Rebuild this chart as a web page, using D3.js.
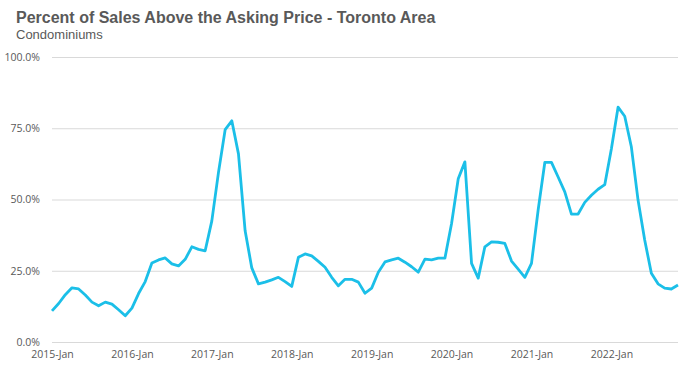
<!DOCTYPE html>
<html>
<head>
<meta charset="utf-8">
<script src="https://cdn.jsdelivr.net/npm/d3@7"></script>
<style>
  body { margin: 0; background: #fff; }
  svg { display: block; }
</style>
</head>
<body>
<svg width="690" height="372"></svg>
<script>
// monthly values, 2015-Jan .. 2022-Nov (percent)
const condoValues = [
    10.9, 13.5, 16.6, 19.0, 18.6, 16.5, 14.0, 12.7, 14.0, 13.3, 11.3, 9.2,   // 2015
    11.9, 17.0, 21.2, 27.7, 28.8, 29.5, 27.4, 26.7, 29.0, 33.4, 32.5, 32.0,  // 2016
    42.5, 59.5, 74.5, 77.6, 66.0, 39.0, 26.0, 20.4, 21.0, 21.8, 22.7, 21.2,  // 2017
    19.5, 29.7, 30.9, 30.2, 28.3, 26.2, 22.7, 19.7, 22.0, 22.0, 21.0, 17.1,  // 2018
    18.9, 24.5, 28.1, 28.8, 29.4, 28.0, 26.4, 24.5, 29.1, 28.8, 29.4, 29.4,  // 2019
    41.6, 57.3, 63.2, 27.6, 22.4, 33.4, 35.1, 35.0, 34.6, 28.4, 25.6, 22.7,  // 2020
    27.6, 46.3, 63.0, 63.0, 57.9, 52.7, 44.9, 44.9, 49.0, 51.5, 53.6, 55.2,  // 2021
    67.8, 82.4, 79.2, 68.4, 49.8, 35.8, 24.1, 20.4, 18.9, 18.6, 20.0         // 2022
];
const xTickLabels = ['2015-Jan','2016-Jan','2017-Jan','2018-Jan','2019-Jan','2020-Jan','2021-Jan','2022-Jan'];
const yTicks = [0, 25, 50, 75, 100];

function Start(){
    const svg = d3.select('svg');
    const left = 52, right = 678, top = 57, bottom = 342;
    const textColor = '#595959';

    svg.append('text')
        .attr('x', 16)
        .attr('y', 23)
        .attr('font-family', 'Liberation Sans, Arial, sans-serif')
        .attr('font-weight', 'bold')
        .attr('font-size', 16)
        .attr('fill', textColor)
        .text('Percent of Sales Above the Asking Price - Toronto Area');

    svg.append('text')
        .attr('x', 16)
        .attr('y', 39)
        .attr('font-family', 'Liberation Sans, Arial, sans-serif')
        .attr('font-size', 13)
        .attr('fill', textColor)
        .text('Condominiums');

    const x = d3.scaleLinear()
        .domain([0, condoValues.length - 1])
        .range([left, right]);
    const y = d3.scaleLinear()
        .domain([0, 100])
        .range([bottom, top]);

    const yAxis = svg.append('g')
        .attr('transform', `translate(${left},0)`)
        .call(d3.axisLeft(y)
            .tickValues(yTicks)
            .tickSize(-(right - left))
            .tickPadding(12)
            .tickFormat(d => d.toFixed(1) + '%'));
    yAxis.select('.domain').remove();
    yAxis.selectAll('line')
        .attr('stroke', '#d9d9d9');
    yAxis.selectAll('text')
        .attr('font-family', 'Open Sans, sans-serif')
        .attr('font-size', 10.5)
        .attr('fill', textColor);

    const xAxis = svg.append('g')
        .attr('transform', `translate(0,${bottom})`)
        .call(d3.axisBottom(x)
            .tickValues(xTickLabels.map((d, i) => i * 12))
            .tickSize(0)
            .tickPadding(9)
            .tickFormat((d, i) => xTickLabels[i]));
    xAxis.select('.domain').remove();
    xAxis.selectAll('text')
        .attr('font-family', 'Open Sans, sans-serif')
        .attr('font-size', 10.5)
        .attr('fill', textColor);

    const line = d3.line()
        .x((d, i) => x(i))
        .y(d => y(d));

    svg.append('path')
        .datum(condoValues)
        .attr('d', line)
        .attr('fill', 'none')
        .attr('stroke', '#1bbfe8')
        .attr('stroke-width', 2.8)
        .attr('stroke-linejoin', 'round');
}
Start();
</script>
</body>
</html>
